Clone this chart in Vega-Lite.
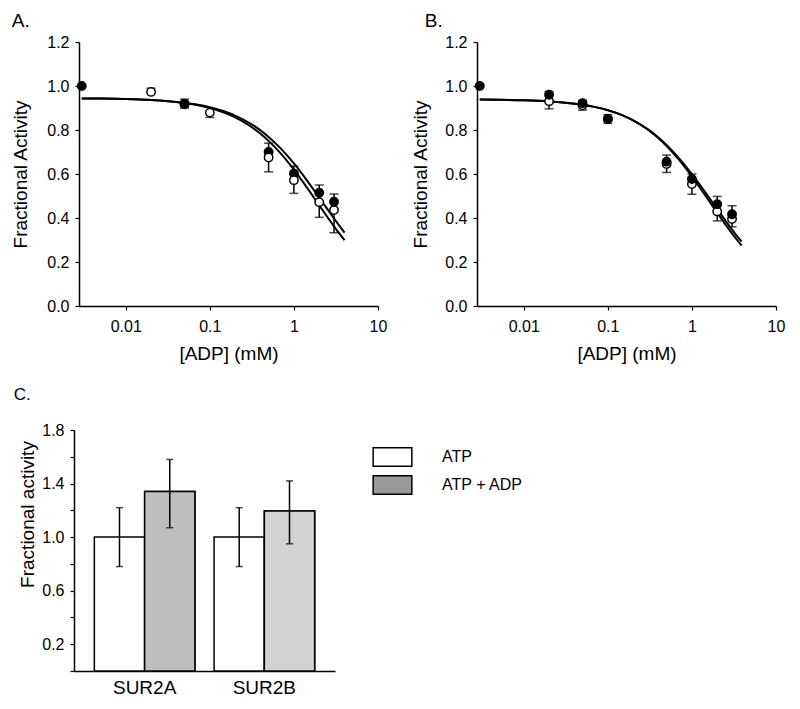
{
  "$schema": "https://vega.github.io/schema/vega-lite/v6.json",
  "background": "white",
  "padding": {"left": 11, "top": 12, "right": 4, "bottom": 4},
  "config": {
    "font": "Liberation Sans",
    "view": {"stroke": null},
    "axis": {"grid": false, "domainColor": "black", "tickColor": "black", "labelColor": "black", "titleColor": "black", "domainWidth": 1.5, "tickWidth": 1.2, "labelFontSize": 16, "titleFontSize": 19, "titleFontWeight": "normal", "labelFont": "Liberation Sans", "titleFont": "Liberation Sans"},
    "title": {"fontWeight": "normal", "color": "black", "font": "Liberation Sans"},
    "legend": {"labelFont": "Liberation Sans", "labelColor": "black"}
  },
  "datasets": {
    "curveA": [
      {"x": 0.003, "y": 0.9437, "fit": "u"}, {"x": 0.005, "y": 0.9428, "fit": "u"}, {"x": 0.01, "y": 0.9407, "fit": "u"}, {"x": 0.02, "y": 0.9364, "fit": "u"}, {"x": 0.03, "y": 0.9322, "fit": "u"}, {"x": 0.05, "y": 0.9238, "fit": "u"}, {"x": 0.07, "y": 0.9156, "fit": "u"}, {"x": 0.1, "y": 0.9035, "fit": "u"}, {"x": 0.15, "y": 0.8842, "fit": "u"}, {"x": 0.2, "y": 0.8656, "fit": "u"}, {"x": 0.3, "y": 0.8307, "fit": "u"}, {"x": 0.4, "y": 0.7985, "fit": "u"}, {"x": 0.5, "y": 0.7687, "fit": "u"}, {"x": 0.7, "y": 0.7153, "fit": "u"}, {"x": 1, "y": 0.6478, "fit": "u"}, {"x": 1.5, "y": 0.5598, "fit": "u"}, {"x": 2, "y": 0.4928, "fit": "u"}, {"x": 2.5, "y": 0.4402, "fit": "u"}, {"x": 3, "y": 0.3977, "fit": "u"}, {"x": 3.5, "y": 0.3627, "fit": "u"}, {"x": 4, "y": 0.3333, "fit": "u"},
      {"x": 0.003, "y": 0.9437, "fit": "l"}, {"x": 0.005, "y": 0.9428, "fit": "l"}, {"x": 0.01, "y": 0.9405, "fit": "l"}, {"x": 0.02, "y": 0.9359, "fit": "l"}, {"x": 0.03, "y": 0.9313, "fit": "l"}, {"x": 0.05, "y": 0.9222, "fit": "l"}, {"x": 0.07, "y": 0.9132, "fit": "l"}, {"x": 0.1, "y": 0.8999, "fit": "l"}, {"x": 0.15, "y": 0.8784, "fit": "l"}, {"x": 0.2, "y": 0.8577, "fit": "l"}, {"x": 0.3, "y": 0.819, "fit": "l"}, {"x": 0.4, "y": 0.7834, "fit": "l"}, {"x": 0.5, "y": 0.7506, "fit": "l"}, {"x": 0.7, "y": 0.6923, "fit": "l"}, {"x": 1, "y": 0.6196, "fit": "l"}, {"x": 1.5, "y": 0.5267, "fit": "l"}, {"x": 2, "y": 0.4577, "fit": "l"}, {"x": 2.5, "y": 0.4043, "fit": "l"}, {"x": 3, "y": 0.3619, "fit": "l"}, {"x": 3.5, "y": 0.3276, "fit": "l"}, {"x": 4, "y": 0.299, "fit": "l"}
    ],
    "curveB": [
      {"x": 0.003, "y": 0.9384, "fit": "u"}, {"x": 0.005, "y": 0.9373, "fit": "u"}, {"x": 0.01, "y": 0.9347, "fit": "u"}, {"x": 0.02, "y": 0.9294, "fit": "u"}, {"x": 0.03, "y": 0.9242, "fit": "u"}, {"x": 0.05, "y": 0.914, "fit": "u"}, {"x": 0.07, "y": 0.904, "fit": "u"}, {"x": 0.1, "y": 0.8895, "fit": "u"}, {"x": 0.15, "y": 0.8662, "fit": "u"}, {"x": 0.2, "y": 0.8441, "fit": "u"}, {"x": 0.3, "y": 0.8031, "fit": "u"}, {"x": 0.4, "y": 0.7659, "fit": "u"}, {"x": 0.5, "y": 0.732, "fit": "u"}, {"x": 0.7, "y": 0.6725, "fit": "u"}, {"x": 1, "y": 0.5994, "fit": "u"}, {"x": 1.5, "y": 0.5075, "fit": "u"}, {"x": 2, "y": 0.44, "fit": "u"}, {"x": 2.5, "y": 0.3884, "fit": "u"}, {"x": 3, "y": 0.3476, "fit": "u"}, {"x": 3.5, "y": 0.3145, "fit": "u"}, {"x": 3.9, "y": 0.2923, "fit": "u"},
      {"x": 0.003, "y": 0.9386, "fit": "l"}, {"x": 0.005, "y": 0.9376, "fit": "l"}, {"x": 0.01, "y": 0.9351, "fit": "l"}, {"x": 0.02, "y": 0.9301, "fit": "l"}, {"x": 0.03, "y": 0.9251, "fit": "l"}, {"x": 0.05, "y": 0.915, "fit": "l"}, {"x": 0.07, "y": 0.9051, "fit": "l"}, {"x": 0.1, "y": 0.8904, "fit": "l"}, {"x": 0.15, "y": 0.8667, "fit": "l"}, {"x": 0.2, "y": 0.844, "fit": "l"}, {"x": 0.3, "y": 0.8015, "fit": "l"}, {"x": 0.4, "y": 0.7628, "fit": "l"}, {"x": 0.5, "y": 0.7274, "fit": "l"}, {"x": 0.7, "y": 0.665, "fit": "l"}, {"x": 1, "y": 0.5886, "fit": "l"}, {"x": 1.5, "y": 0.493, "fit": "l"}, {"x": 2, "y": 0.4236, "fit": "l"}, {"x": 2.5, "y": 0.3709, "fit": "l"}, {"x": 3, "y": 0.3297, "fit": "l"}, {"x": 3.5, "y": 0.2966, "fit": "l"}, {"x": 3.9, "y": 0.2744, "fit": "l"}
    ],
    "ptsA": [
      {"x": 0.05, "y": 0.92, "series": "open", "eb": 0.9},
      {"x": 0.003, "y": 1.0, "series": "filled"},
      {"x": 0.05, "y": 0.917, "series": "filled", "eb": 0.94},
      {"x": 0.5, "y": 0.7, "series": "filled", "eb": 0.74},
      {"x": 1, "y": 0.602, "series": "filled", "eb": 0.636},
      {"x": 2, "y": 0.515, "series": "filled", "eb": 0.55},
      {"x": 3, "y": 0.474, "series": "filled", "eb": 0.509},
      {"x": 0.02, "y": 0.973, "series": "open", "eb": 0.99},
      {"x": 0.1, "y": 0.879, "series": "open", "eb": 0.857},
      {"x": 0.5, "y": 0.675, "series": "open", "eb": 0.61},
      {"x": 1, "y": 0.572, "series": "open", "eb": 0.512},
      {"x": 2, "y": 0.472, "series": "open", "eb": 0.403},
      {"x": 3, "y": 0.436, "series": "open", "eb": 0.333}
    ],
    "ptsB": [
      {"x": 0.02, "y": 0.931, "series": "open", "eb": 0.896},
      {"x": 0.05, "y": 0.912, "series": "open", "eb": 0.89},
      {"x": 0.1, "y": 0.85, "series": "open", "eb": 0.83},
      {"x": 0.5, "y": 0.645, "series": "open", "eb": 0.607},
      {"x": 1, "y": 0.554, "series": "open", "eb": 0.508},
      {"x": 2, "y": 0.43, "series": "open", "eb": 0.387},
      {"x": 3, "y": 0.395, "series": "open", "eb": 0.36},
      {"x": 0.003, "y": 1.0, "series": "filled"},
      {"x": 0.02, "y": 0.96, "series": "filled", "eb": 0.975},
      {"x": 0.05, "y": 0.922, "series": "filled", "eb": 0.935},
      {"x": 0.1, "y": 0.85, "series": "filled", "eb": 0.87},
      {"x": 0.5, "y": 0.656, "series": "filled", "eb": 0.686},
      {"x": 1, "y": 0.577, "series": "filled", "eb": 0.6},
      {"x": 2, "y": 0.463, "series": "filled", "eb": 0.498},
      {"x": 3, "y": 0.417, "series": "filled", "eb": 0.456}
    ],
    "bars": [
      {"receptor": "SUR2A", "treatment": "ATP", "value": 1.0, "lo": 0.78, "hi": 1.22},
      {"receptor": "SUR2A", "treatment": "ATP + ADP", "value": 1.34, "lo": 1.07, "hi": 1.58},
      {"receptor": "SUR2B", "treatment": "ATP", "value": 1.0, "lo": 0.78, "hi": 1.22},
      {"receptor": "SUR2B", "treatment": "ATP + ADP", "value": 1.195, "lo": 0.95, "hi": 1.42}
    ]
  },
  "spacing": 23,
  "vconcat": [
    {
      "bounds": "flush",
      "spacing": 0,
      "hconcat": [
        {"width": 5, "height": 264, "data": {"values": []}, "mark": {"type": "point", "opacity": 0}, "encoding": {}},
        {
          "width": 299, "height": 264,
          "title": {"text": "A.", "anchor": "start", "frame": "bounds", "fontSize": 19, "offset": 3},
          "encoding": {
            "x": {"field": "x", "type": "quantitative", "scale": {"type": "log", "domain": [0.00278, 10], "nice": false}, "axis": {"values": [0.01, 0.1, 1, 10], "format": "~g", "tickSize": 4, "labelPadding": 8, "labelFlush": false, "titlePadding": 10}, "title": "[ADP] (mM)"},
            "y": {"field": "y", "type": "quantitative", "scale": {"domain": [0, 1.2], "nice": false}, "axis": {"values": [0, 0.2, 0.4, 0.6, 0.8, 1.0, 1.2], "format": ".1f", "tickSize": 4, "labelPadding": 6, "titlePadding": 16}, "title": "Fractional Activity"}
          },
          "layer": [
            {"data": {"name": "curveA"}, "mark": {"type": "line", "color": "black", "strokeWidth": 2, "interpolate": "monotone"}, "encoding": {"detail": {"field": "fit"}}},
            {"data": {"name": "ptsA"}, "transform": [{"filter": "isValid(datum.eb)"}], "mark": {"type": "rule", "color": "black", "strokeWidth": 1.5}, "encoding": {"y2": {"field": "eb"}}},
            {"data": {"name": "ptsA"}, "transform": [{"filter": "isValid(datum.eb)"}], "mark": {"type": "tick", "orient": "horizontal", "color": "black", "thickness": 1.5, "size": 9}, "encoding": {"y": {"field": "eb", "type": "quantitative", "axis": {"values": [0, 0.2, 0.4, 0.6, 0.8, 1.0, 1.2], "format": ".1f", "tickSize": 4, "labelPadding": 6, "titlePadding": 16}, "title": "Fractional Activity"}}},
            {"data": {"name": "ptsA"}, "mark": {"type": "point", "shape": "circle", "filled": true, "size": 70, "stroke": "black", "strokeWidth": 1.5, "opacity": 1}, "encoding": {"fill": {"field": "series", "type": "nominal", "scale": {"domain": ["filled", "open"], "range": ["black", "white"]}, "legend": null}}}
          ]
        },
        {"width": 99, "height": 264, "data": {"values": []}, "mark": {"type": "point", "opacity": 0}, "encoding": {}},
        {
          "width": 299, "height": 264,
          "title": {"text": "B.", "anchor": "start", "frame": "bounds", "fontSize": 19, "offset": 3, "dx": 13},
          "encoding": {
            "x": {"field": "x", "type": "quantitative", "scale": {"type": "log", "domain": [0.00278, 10], "nice": false}, "axis": {"values": [0.01, 0.1, 1, 10], "format": "~g", "tickSize": 4, "labelPadding": 8, "labelFlush": false, "titlePadding": 10}, "title": "[ADP] (mM)"},
            "y": {"field": "y", "type": "quantitative", "scale": {"domain": [0, 1.2], "nice": false}, "axis": {"values": [0, 0.2, 0.4, 0.6, 0.8, 1.0, 1.2], "format": ".1f", "tickSize": 4, "labelPadding": 6, "titlePadding": 14}, "title": "Fractional Activity"}
          },
          "layer": [
            {"data": {"name": "curveB"}, "mark": {"type": "line", "color": "black", "strokeWidth": 2, "interpolate": "monotone"}, "encoding": {"detail": {"field": "fit"}}},
            {"data": {"name": "ptsB"}, "transform": [{"filter": "isValid(datum.eb)"}], "mark": {"type": "rule", "color": "black", "strokeWidth": 1.5}, "encoding": {"y2": {"field": "eb"}}},
            {"data": {"name": "ptsB"}, "transform": [{"filter": "isValid(datum.eb)"}], "mark": {"type": "tick", "orient": "horizontal", "color": "black", "thickness": 1.5, "size": 9}, "encoding": {"y": {"field": "eb", "type": "quantitative", "axis": {"values": [0, 0.2, 0.4, 0.6, 0.8, 1.0, 1.2], "format": ".1f", "tickSize": 4, "labelPadding": 6, "titlePadding": 14}, "title": "Fractional Activity"}}},
            {"data": {"name": "ptsB"}, "mark": {"type": "point", "shape": "circle", "filled": true, "size": 70, "stroke": "black", "strokeWidth": 1.5, "opacity": 1}, "encoding": {"fill": {"field": "series", "type": "nominal", "scale": {"domain": ["filled", "open"], "range": ["black", "white"]}, "legend": null}}}
          ]
        }
      ]
    },
    {
      "width": 261, "height": 241,
      "title": {"text": "C.", "anchor": "start", "frame": "bounds", "fontSize": 17, "offset": 18, "dx": -5},
      "data": {"name": "bars"},
      "encoding": {
        "x": {"field": "receptor", "type": "nominal", "scale": {"paddingInner": 0.16, "paddingOuter": 0.17}, "axis": {"title": null, "labelAngle": 0, "ticks": false, "labelFontSize": 19, "labelPadding": 7}},
        "xOffset": {"field": "treatment", "type": "nominal", "scale": {"domain": ["ATP", "ATP + ADP"], "paddingInner": 0, "paddingOuter": 0}}
      },
      "layer": [
        {
          "mark": {"type": "bar", "stroke": "black", "strokeWidth": 1.5},
          "encoding": {
            "y": {"field": "value", "type": "quantitative", "scale": {"domain": [0, 1.8], "nice": false}, "axis": {"values": [0, 0.2, 0.4, 0.6, 0.8, 1.0, 1.2, 1.4, 1.6, 1.8], "labelExpr": "round(datum.value*10)%4==2 ? format(datum.value, '.1f') : ''", "tickSize": 4, "labelPadding": 6, "titlePadding": 4, "titleY": 84}, "title": "Fractional activity"},
            "fill": {"field": "treatment", "type": "nominal", "scale": {"domain": ["ATP", "ATP + ADP"], "range": ["white", "#999999"]}, "legend": {"title": null, "orient": "none", "legendX": 303.5, "legendY": 12, "padding": 0, "symbolType": "M-1.4,-0.67H1.4V0.67H-1.4Z", "symbolSize": 763, "symbolStrokeColor": "black", "symbolStrokeWidth": 1.5, "labelFontSize": 16, "labelOffset": 34.6, "rowPadding": -2}}
          }
        },
        {
          "transform": [{"filter": "datum.treatment == 'ATP + ADP'"}],
          "mark": {"type": "bar", "stroke": "black", "strokeWidth": 1.5},
          "encoding": {
            "y": {"field": "value", "type": "quantitative", "axis": {"values": [0, 0.2, 0.4, 0.6, 0.8, 1.0, 1.2, 1.4, 1.6, 1.8], "labelExpr": "round(datum.value*10)%4==2 ? format(datum.value, '.1f') : ''", "tickSize": 4, "labelPadding": 6, "titlePadding": 4, "titleY": 84}, "title": "Fractional activity"},
            "fill": {"field": "receptor", "type": "nominal", "scale": {"domain": ["SUR2A", "SUR2B"], "range": ["#bebebe", "#d2d2d2"]}, "legend": null}
          }
        },
        {"mark": {"type": "rule", "color": "black", "strokeWidth": 1.5}, "encoding": {"y": {"field": "lo", "type": "quantitative", "axis": {"values": [0, 0.2, 0.4, 0.6, 0.8, 1.0, 1.2, 1.4, 1.6, 1.8], "labelExpr": "round(datum.value*10)%4==2 ? format(datum.value, '.1f') : ''", "tickSize": 4, "labelPadding": 6, "titlePadding": 4, "titleY": 84}, "title": "Fractional activity"}, "y2": {"field": "hi"}}},
        {"mark": {"type": "tick", "color": "black", "thickness": 1.5, "size": 7}, "encoding": {"y": {"field": "lo", "type": "quantitative", "axis": {"values": [0, 0.2, 0.4, 0.6, 0.8, 1.0, 1.2, 1.4, 1.6, 1.8], "labelExpr": "round(datum.value*10)%4==2 ? format(datum.value, '.1f') : ''", "tickSize": 4, "labelPadding": 6, "titlePadding": 4, "titleY": 84}, "title": "Fractional activity"}}},
        {"mark": {"type": "tick", "color": "black", "thickness": 1.5, "size": 7}, "encoding": {"y": {"field": "hi", "type": "quantitative", "axis": {"values": [0, 0.2, 0.4, 0.6, 0.8, 1.0, 1.2, 1.4, 1.6, 1.8], "labelExpr": "round(datum.value*10)%4==2 ? format(datum.value, '.1f') : ''", "tickSize": 4, "labelPadding": 6, "titlePadding": 4, "titleY": 84}, "title": "Fractional activity"}}}
      ],
      "resolve": {"scale": {"fill": "independent"}}
    }
  ]
}
